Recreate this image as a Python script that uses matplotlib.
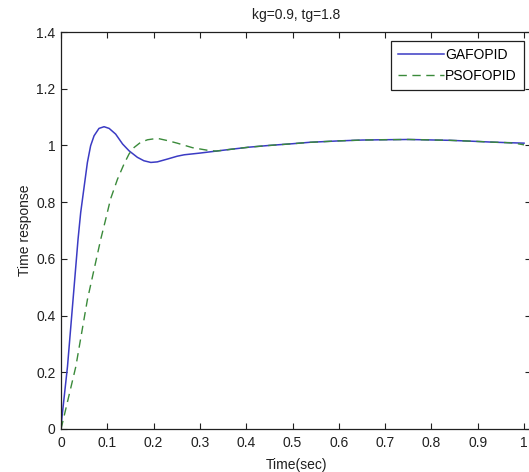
import matplotlib
matplotlib.use('Agg')
import matplotlib.pyplot as plt

# step responses
t_ga = [0, 0.002, 0.014, 0.026, 0.0368, 0.0425, 0.0483, 0.057, 0.064, 0.0714,
        0.082, 0.093, 0.104, 0.118, 0.133, 0.147, 0.165, 0.179, 0.194, 0.208,
        0.230, 0.251, 0.266, 0.30, 0.335, 0.37, 0.407, 0.45, 0.50, 0.537,
        0.60, 0.65, 0.695, 0.75, 0.84, 0.90, 0.926, 0.96, 1.0]
y_ga = [0, 0.04, 0.22, 0.456, 0.669, 0.763, 0.834, 0.940, 0.999, 1.034,
        1.060, 1.066, 1.060, 1.040, 1.005, 0.981, 0.958, 0.946, 0.940, 0.942,
        0.952, 0.962, 0.967, 0.973, 0.980, 0.987, 0.994, 1.000, 1.006, 1.011,
        1.016, 1.019, 1.020, 1.021, 1.018, 1.014, 1.012, 1.010, 1.008]

t_pso = [0, 0.003, 0.032, 0.057, 0.0858, 0.0966, 0.107, 0.122, 0.136, 0.147,
         0.158, 0.172, 0.187, 0.208, 0.230, 0.251, 0.284, 0.32, 0.335, 0.37,
         0.407, 0.45, 0.50, 0.537, 0.60, 0.65, 0.695, 0.75, 0.84, 0.90,
         0.926, 0.96, 0.98, 1.0]
y_pso = [0, 0.02, 0.22, 0.456, 0.669, 0.740, 0.811, 0.881, 0.934, 0.970,
         0.993, 1.011, 1.020, 1.025, 1.017, 1.008, 0.992, 0.982, 0.980, 0.987,
         0.994, 1.000, 1.006, 1.011, 1.016, 1.019, 1.020, 1.021, 1.018, 1.014,
         1.012, 1.010, 1.008, 1.002]

xticks = [0, 0.1, 0.2, 0.3, 0.4, 0.5, 0.6, 0.7, 0.8, 0.9, 1.0]
xtick_labels = ['0', '0.1', '0.2', '0.3', '0.4', '0.5', '0.6', '0.7', '0.8', '0.9', '1']
yticks = [0, 0.2, 0.4, 0.6, 0.8, 1.0, 1.2, 1.4]
ytick_labels = ['0', '0.2', '0.4', '0.6', '0.8', '1', '1.2', '1.4']

plt.rcParams['font.family'] = ['Liberation Sans', 'DejaVu Sans']
plt.rcParams['font.size'] = 10

fig = plt.figure(figsize=(5.29, 4.72), dpi=100)
# axes runs a little past the right edge (the original is cropped there)
ax = fig.add_axes([61 / 529, 43 / 472, 470 / 529, 397 / 472])

ax.plot(t_ga, y_ga, '-', color='#3b3bc4', lw=1.1, label='GAFOPID')
ax.plot(t_pso, y_pso, '--', color='#3a8a3a', lw=1.0, dashes=(6, 4), label='PSOFOPID')

ax.set_xlim(0, 1.015)
ax.set_ylim(0, 1.4)
ax.set_xticks(xticks)
ax.set_xticklabels(xtick_labels)
ax.set_yticks(yticks)
ax.set_yticklabels(ytick_labels)
ax.tick_params(direction='in', length=4, width=0.8, top=True, right=True,
               colors='#202020', labelsize=10)
ax.tick_params(axis='x', pad=5)
ax.tick_params(axis='y', pad=4)
for s in ax.spines.values():
    s.set_linewidth(0.9)
    s.set_color('#202020')

ax.set_title('kg=0.9, tg=1.8', fontsize=10, pad=9, color='#202020')
ax.set_xlabel('Time(sec)', fontsize=10, labelpad=6, color='#202020')
ax.set_ylabel('Time response', fontsize=10, labelpad=3, color='#202020')

leg = ax.legend(loc='upper right', bbox_to_anchor=(0.99, 0.985), fancybox=False,
                edgecolor='#202020', framealpha=1, handlelength=3.3,
                handletextpad=0.1, borderpad=0.5, labelspacing=0.55,
                borderaxespad=0.2, fontsize=10)
leg.get_frame().set_linewidth(0.9)

fig.savefig('out.png', dpi=100)
